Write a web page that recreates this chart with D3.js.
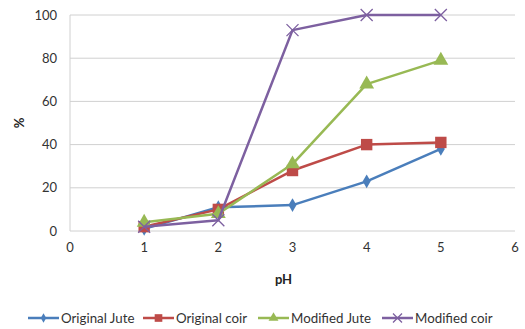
<!DOCTYPE html>
<html><head><meta charset="utf-8">
<script src="https://cdn.jsdelivr.net/npm/d3@7"></script>
<style>body{margin:0;background:#fff}svg{display:block}text{font-family:Lato,"Open Sans",sans-serif}</style>
</head><body><svg id="c" width="525" height="329"></svg>
<script>
const phValues = [1, 2, 3, 4, 5];
const originalJute = [1, 11, 12, 23, 38];
const originalCoir = [2, 10, 28, 40, 41];
const modifiedJute = [4, 8, 31, 68, 79];
const modifiedCoir = [2, 5, 93, 100, 100];
const xTicks = [0, 1, 2, 3, 4, 5, 6];
const yTicks = [0, 20, 40, 60, 80, 100];
const seriesNames = ["Original Jute", "Original coir", "Modified Jute", "Modified coir"];

const series = [
  {name: seriesNames[0], vals: originalJute, color: "#4a7ebb", sym: d3.symbolDiamond, size: 55, r: 0},
  {name: seriesNames[1], vals: originalCoir, color: "#be4b48", sym: d3.symbolSquare, size: 130, r: 0},
  {name: seriesNames[2], vals: modifiedJute, color: "#98b954", sym: d3.symbolTriangle, size: 95, r: 0},
  {name: seriesNames[3], vals: modifiedCoir, color: "#7d60a0", sym: "x", size: 0, r: 6}
];

const svg = d3.select("#c");
const L = 70, R = 515, T = 15, B = 231;
const x = d3.scaleLinear().domain([0, 6]).range([L, R]);
const y = d3.scaleLinear().domain([0, 100]).range([B, T]);

svg.append("g").selectAll("line").data(yTicks).join("line")
  .attr("x1", L).attr("x2", R).attr("y1", d => y(d)).attr("y2", d => y(d))
  .attr("stroke", "#d0d0d0").attr("stroke-width", 1);
svg.append("line").attr("x1", L).attr("x2", L).attr("y1", T).attr("y2", B)
  .attr("stroke", "#d0d0d0");

svg.append("g").selectAll("text").data(yTicks).join("text")
  .attr("x", 57).attr("y", d => y(d)).attr("dy", "0.35em")
  .attr("text-anchor", "end").attr("font-size", 13).attr("fill", "#333")
  .text(d => d);
svg.append("g").selectAll("text").data(xTicks).join("text")
  .attr("x", d => x(d)).attr("y", 252)
  .attr("text-anchor", "middle").attr("font-size", 13).attr("fill", "#333")
  .text(d => d);

svg.append("text").attr("x", x(3) - 9).attr("y", 284).attr("text-anchor", "middle")
  .attr("font-size", 13).attr("font-weight", "bold").attr("fill", "#222").text("pH");
svg.append("text").attr("transform", `translate(24,${(T + B) / 2}) rotate(-90)`)
  .attr("text-anchor", "middle").attr("font-size", 13).attr("font-weight", "bold")
  .attr("fill", "#222").text("%");

const line = d3.line().x((d, i) => x(phValues[i])).y(d => y(d));

function drawMarker(g, s, cx, cy) {
  if (s.sym === "x") {
    const r = s.r;
    g.append("path").attr("d", `M${cx - r},${cy - r}L${cx + r},${cy + r}M${cx - r},${cy + r}L${cx + r},${cy - r}`)
      .attr("stroke", s.color).attr("stroke-width", 1.3).attr("fill", "none");
  } else {
    g.append("path").attr("d", d3.symbol(s.sym, s.size)())
      .attr("transform", `translate(${cx},${cy})`).attr("fill", s.color);
  }
}

series.forEach(s => {
  const g = svg.append("g");
  g.append("path").datum(s.vals).attr("d", line)
    .attr("fill", "none").attr("stroke", s.color).attr("stroke-width", 2.5)
    .attr("stroke-linejoin", "round");
  s.vals.forEach((v, i) => drawMarker(g, s, x(phValues[i]), y(v)));
});

const legX = [28, 143, 258, 382];
const ly = 318;
series.forEach((s, i) => {
  const g = svg.append("g");
  g.append("line").attr("x1", legX[i]).attr("x2", legX[i] + 31).attr("y1", ly).attr("y2", ly)
    .attr("stroke", s.color).attr("stroke-width", 2.5);
  const sm = Object.assign({}, s, {size: s.size * 0.45, r: 4.5});
  drawMarker(g, sm, legX[i] + 15.5, ly);
  g.append("text").attr("x", legX[i] + 33).attr("y", ly).attr("dy", "0.35em")
    .attr("font-size", 13.3).attr("fill", "#333").text(s.name);
});
</script></body></html>
